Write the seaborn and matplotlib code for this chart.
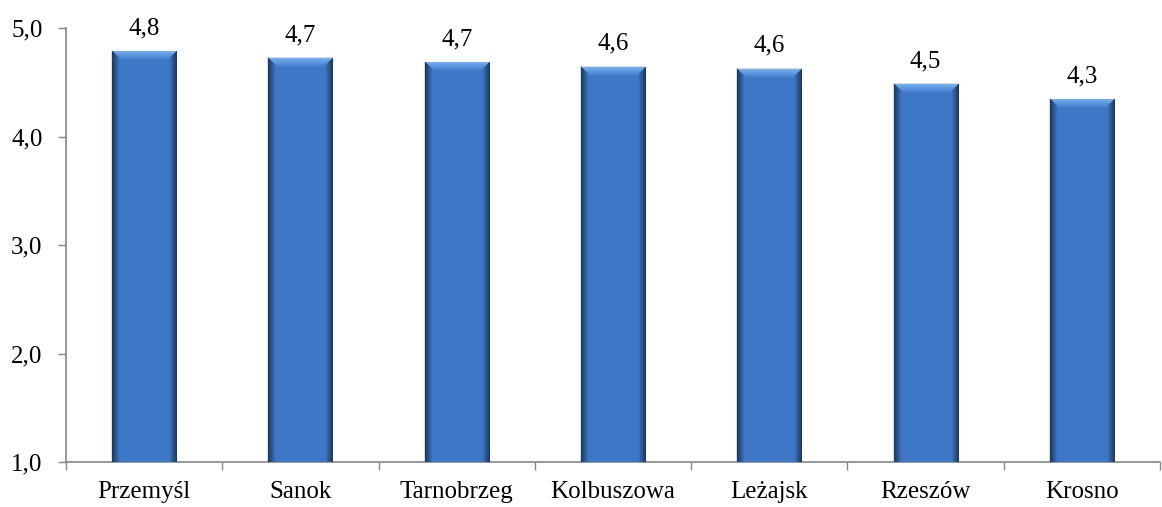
import numpy as np
import pandas as pd
import matplotlib
matplotlib.use("Agg")
import matplotlib.pyplot as plt
from matplotlib.ticker import FuncFormatter, FixedLocator
import seaborn as sns

miasta = ["Przemyśl", "Sanok", "Tarnobrzeg", "Kolbuszowa", "Leżajsk", "Rzeszów", "Krosno"]
wartosci = [4.78, 4.72, 4.68, 4.64, 4.62, 4.48, 4.34]

df = pd.DataFrame({"miasto": miasta, "ocena": wartosci})

sns.set_style("white")
plt.rcParams["font.family"] = ["Liberation Serif", "DejaVu Serif"]
FONT = "Liberation Serif"

fig = plt.figure(figsize=(11.62, 5.07), dpi=100)
ax = fig.add_axes([66 / 1162, 45 / 507, 1094 / 1162, 434 / 507])

sns.barplot(data=df, x="miasto", y="ocena", color="#3d76c4", width=0.41,
            ax=ax, zorder=2)
ax.set_ylim(1.0, 5.0)
ax.set_xlim(-0.5, len(miasta) - 0.5)

fig.canvas.draw()
to_px = ax.transData


def bar_image(wpx, hpx):
    # cieniowanie słupka: ciemne boki, jaśniejsza skośna góra
    base = np.array([0.24, 0.47, 0.78])
    light = np.array([0.45, 0.68, 0.94])
    img = np.tile(base, (hpx, wpx, 1))
    cols = np.arange(wpx)
    d = np.minimum(cols, wpx - 1 - cols).astype(float)
    side = np.clip(d / 7.0, 0, 1)
    fac = 0.48 + 0.52 * side
    img *= fac[None, :, None]
    bev = 9
    for r in range(min(bev, hpx)):
        mask = d > r
        t = r / bev
        col = light * (1 - t) + base * t
        img[r, mask] = col
    return np.clip(img, 0, 1)


for p in ax.patches:
    x0, y0 = p.get_x(), p.get_y()
    w, h = p.get_width(), p.get_height()
    (px0, py0) = to_px.transform((x0, y0))
    (px1, py1) = to_px.transform((x0 + w, y0 + h))
    wpx = max(int(round(px1 - px0)), 2)
    hpx = max(int(round(py1 - py0)), 2)
    ax.imshow(bar_image(wpx, hpx), extent=[x0, x0 + w, y0, y0 + h],
              aspect="auto", interpolation="bilinear", zorder=3)
    p.set_facecolor("none")
    p.set_edgecolor("#cfcfcf")
    p.set_linewidth(1.5)
    p.set_alpha(0.7)

ax.set_xlim(-0.5, len(miasta) - 0.5)
ax.set_ylim(1.0, 5.0)

for i, v in enumerate(wartosci):
    ax.text(i, v + 0.16, f"{v:.1f}".replace(".", ","), ha="center", va="baseline",
            fontsize=18, color="black", family=FONT)

ax.yaxis.set_major_locator(FixedLocator([1, 2, 3, 4, 5]))
ax.yaxis.set_major_formatter(FuncFormatter(lambda v, _: f"{v:.1f}".replace(".", ",")))
ax.set_xticks(np.arange(-0.5, len(miasta)), minor=False)
ax.set_xticklabels([""] * (len(miasta) + 1))
ax.set_xticks(np.arange(len(miasta)), minor=True)
ax.set_xticklabels(miasta, minor=True)

ax.tick_params(axis="y", which="major", direction="out", length=6, width=1,
               color="#868686", labelsize=18, pad=11, left=True)
ax.tick_params(axis="x", which="major", direction="out", length=6, width=1,
               color="#868686", bottom=True)
ax.tick_params(axis="x", which="minor", length=0, labelsize=18, pad=14)

for lab in ax.get_yticklabels() + ax.get_xticklabels(minor=True):
    lab.set_family(FONT)
    lab.set_color("black")

for s in ["top", "right"]:
    ax.spines[s].set_visible(False)
for s in ["left", "bottom"]:
    ax.spines[s].set_color("#868686")
    ax.spines[s].set_linewidth(1.2)

ax.set_xlabel("")
ax.set_ylabel("")

fig.savefig("out.png", dpi=100)
